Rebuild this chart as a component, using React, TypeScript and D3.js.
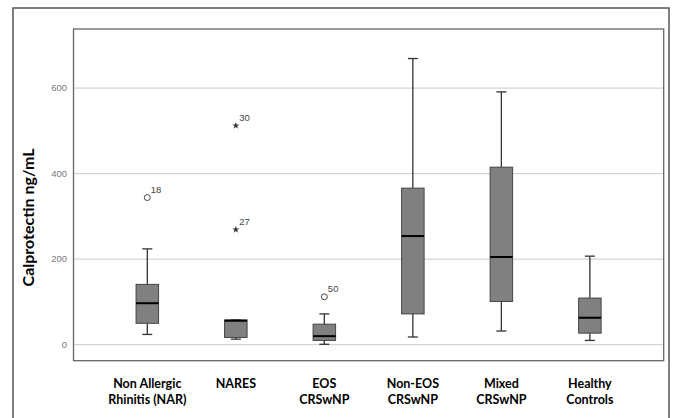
import React, {useEffect, useRef} from 'react';
import * as d3 from 'd3';

// box plot values (ng/mL)
const categories = [
    ['Non Allergic', 'Rhinitis (NAR)'],
    ['NARES'],
    ['EOS', 'CRSwNP'],
    ['Non-EOS', 'CRSwNP'],
    ['Mixed', 'CRSwNP'],
    ['Healthy', 'Controls'],
];
const whiskerLow = [24, 13, 1, 18, 32, 10];
const q1 = [50, 17, 10, 72, 101, 27];
const median = [97, 56, 20, 254, 205, 63];
const q3 = [141, 58, 48, 366, 415, 109];
const whiskerHigh = [224, 58, 72, 669, 591, 207];

// outliers: group index, value, case label, type
const outliers = [
    {group: 0, value: 344, label: '18', kind: 'circle'},
    {group: 1, value: 512, label: '30', kind: 'star'},
    {group: 1, value: 269, label: '27', kind: 'star'},
    {group: 2, value: 112, label: '50', kind: 'circle'},
];
const yTicks = [0, 200, 400, 600];

const W = 676;
const H = 418;

function App() {
    const ref = useRef<SVGSVGElement | null>(null);

    useEffect(() => {
        const svg = d3.select(ref.current);
        svg.selectAll('*').remove();

        const left = 73.5, right = 663.7, top = 29, bottom = 360.7;

        const x = d3.scalePoint<number>()
            .domain(d3.range(categories.length))
            .range([left, right])
            .padding(0.834);
        const y = d3.scaleLinear().domain([-37.4, 738]).range([bottom, top]);

        // outer frame
        svg.append('rect')
            .attr('x', 13).attr('y', 8)
            .attr('width', 656).attr('height', 430)
            .attr('fill', 'none')
            .attr('stroke', '#555')
            .attr('stroke-width', 1.5);

        // grid lines
        svg.append('g')
            .selectAll('line')
            .data(yTicks)
            .enter()
            .append('line')
            .attr('x1', left).attr('x2', right)
            .attr('y1', (d) => y(d)).attr('y2', (d) => y(d))
            .attr('stroke', '#d4d4d4')
            .attr('stroke-width', 1.2);

        // tick labels
        svg.append('g')
            .selectAll('text')
            .data(yTicks)
            .enter()
            .append('text')
            .attr('x', 67)
            .attr('y', (d) => y(d))
            .attr('dy', '0.35em')
            .attr('text-anchor', 'end')
            .attr('font-family', 'Liberation Sans, Arial, sans-serif')
            .attr('font-size', 9.5)
            .attr('fill', '#777')
            .text((d) => d);

        // plot box
        svg.append('rect')
            .attr('x', left).attr('y', top)
            .attr('width', right - left).attr('height', bottom - top)
            .attr('fill', 'none')
            .attr('stroke', '#666')
            .attr('stroke-width', 1.3);

        const boxW = 22.5;
        const capW = 10;
        const g = svg.append('g');

        categories.forEach((_, i) => {
            const cx = x(i) as number;
            // whiskers
            g.append('line')
                .attr('x1', cx).attr('x2', cx)
                .attr('y1', y(whiskerLow[i])).attr('y2', y(q1[i]))
                .attr('stroke', '#333').attr('stroke-width', 1.3);
            g.append('line')
                .attr('x1', cx).attr('x2', cx)
                .attr('y1', y(q3[i])).attr('y2', y(whiskerHigh[i]))
                .attr('stroke', '#333').attr('stroke-width', 1.3);
            [whiskerLow[i], whiskerHigh[i]].forEach((v) => {
                g.append('line')
                    .attr('x1', cx - capW / 2).attr('x2', cx + capW / 2)
                    .attr('y1', y(v)).attr('y2', y(v))
                    .attr('stroke', '#333').attr('stroke-width', 1.3);
            });
            // box
            g.append('rect')
                .attr('x', cx - boxW / 2)
                .attr('y', y(q3[i]))
                .attr('width', boxW)
                .attr('height', y(q1[i]) - y(q3[i]))
                .attr('fill', '#808080')
                .attr('stroke', '#444')
                .attr('stroke-width', 1);
            // median
            g.append('line')
                .attr('x1', cx - boxW / 2).attr('x2', cx + boxW / 2)
                .attr('y1', y(median[i])).attr('y2', y(median[i]))
                .attr('stroke', '#000').attr('stroke-width', 2);
        });

        // outliers
        const star = d3.symbol().type(d3.symbolStar).size(16);
        outliers.forEach((o) => {
            const cx = x(o.group) as number;
            const cy = y(o.value);
            if (o.kind === 'circle') {
                g.append('circle')
                    .attr('cx', cx).attr('cy', cy).attr('r', 3)
                    .attr('fill', 'white')
                    .attr('stroke', '#444')
                    .attr('stroke-width', 1);
            } else {
                g.append('path')
                    .attr('d', star())
                    .attr('transform', `translate(${cx}, ${cy})`)
                    .attr('fill', '#333');
            }
            g.append('text')
                .attr('x', cx + 3.5)
                .attr('y', cy - 5)
                .attr('font-family', 'Liberation Sans, Arial, sans-serif')
                .attr('font-size', 9.5)
                .attr('fill', '#444')
                .text(o.label);
        });

        // category labels
        categories.forEach((lines, i) => {
            const t = svg.append('text')
                .attr('text-anchor', 'middle')
                .attr('font-family', 'Lato, sans-serif')
                .attr('font-weight', 'bold')
                .attr('font-size', 12.5)
                .attr('fill', '#000');
            lines.forEach((line, j) => {
                t.append('tspan')
                    .attr('x', x(i) as number)
                    .attr('y', 388 + j * 16)
                    .text(line);
            });
        });

        // y axis title
        svg.append('text')
            .attr('transform', 'translate(34, 217.5) rotate(-90)')
            .attr('text-anchor', 'middle')
            .attr('font-family', 'Lato, sans-serif')
            .attr('font-weight', 'bold')
            .attr('font-size', 16)
            .attr('fill', '#000')
            .text('Calprotectin ng/mL');
    }, []);

    return (
        <svg ref={ref} width={W} height={H}
             style={{position: 'absolute', left: 0, top: 0, background: 'white'}}/>
    );
}

export default App;
